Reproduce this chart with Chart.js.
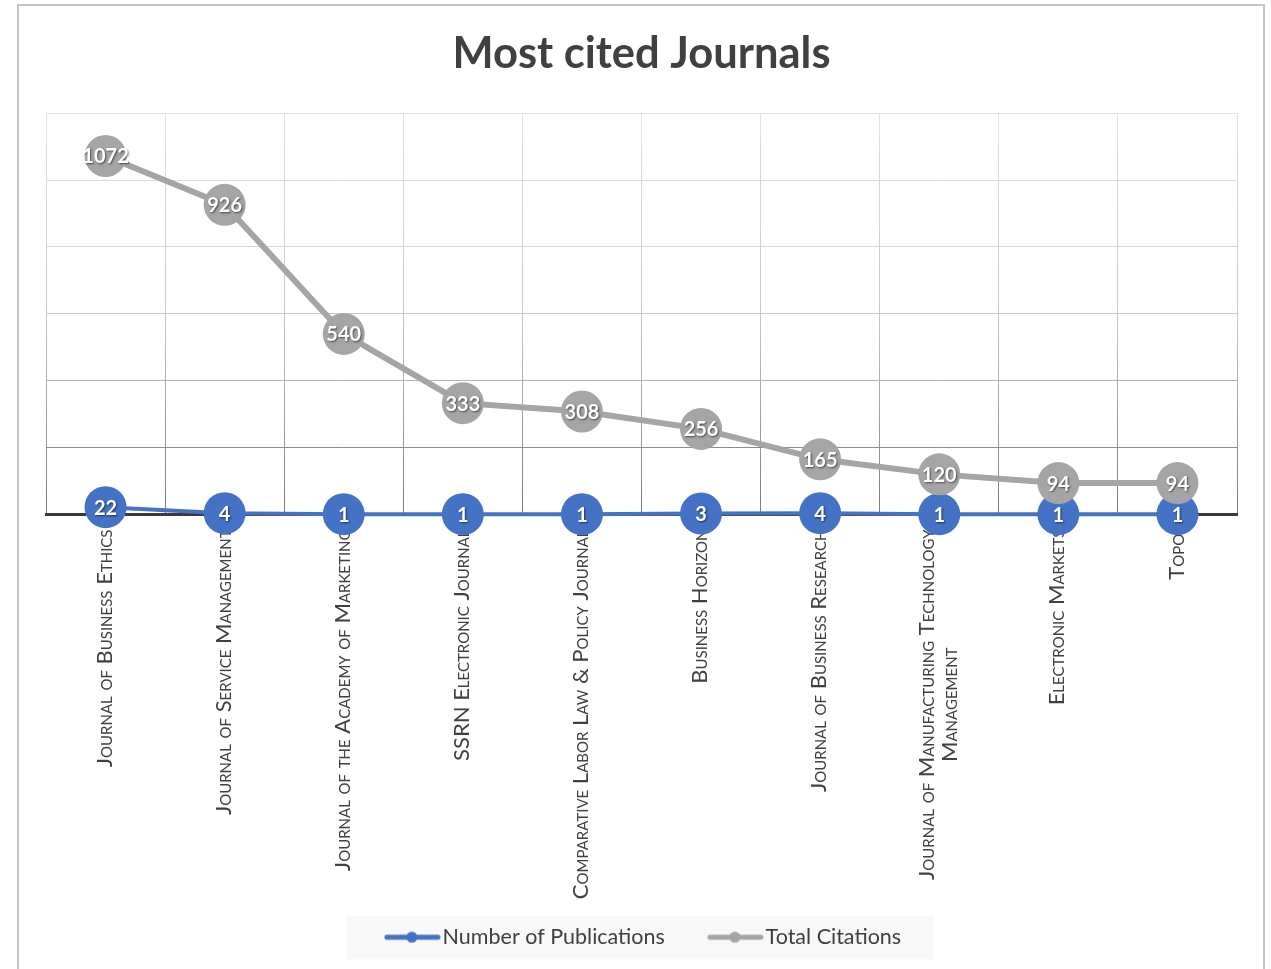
<!DOCTYPE html>
<html>
<head>
<meta charset="utf-8">
<script src="https://cdn.jsdelivr.net/npm/chart.js@4.4.1/dist/chart.umd.min.js"></script>
<style>
  html, body { margin: 0; padding: 0; background: #fff; }
  #wrap { position: relative; width: 1271px; height: 969px; }
</style>
</head>
<body>
<div id="wrap"><canvas id="chart" width="1271" height="969"></canvas></div>
<script>
const journals = [
  'Journal of Business Ethics',
  'Journal of Service Management',
  'Journal of the Academy of Marketing',
  'SSRN Electronic Journal',
  'Comparative Labor Law & Policy Journal',
  'Business Horizon',
  'Journal of Business Research',
  ['Journal of Manufacturing Technology', 'Management'],
  'Electronic Markets',
  'Topoi'
];
const publications = [22, 4, 1, 1, 1, 3, 4, 1, 1, 1];
const citations = [1072, 926, 540, 333, 308, 256, 165, 120, 94, 94];
const yMax = 1200;
const yStep = 200;

const BLUE = '#4472C4';
const GRAY = '#A5A5A5';
const TEXT = '#404040';

// grid gets darker towards the bottom like the original screenshot
const hLineColors = { 200: '#8c8c8c', 400: '#b4b4b4', 600: '#c9c9c9', 800: '#d6d6d6', 1000: '#dddddd', 1200: '#e2e2e2' };

// legend marker: line with a dot, drawn at the right end of a wider transparent image
function legendMarker(color) {
  const c = document.createElement('canvas');
  c.width = 98; c.height = 12;
  const g = c.getContext('2d');
  g.strokeStyle = color; g.lineWidth = 5; g.lineCap = 'round';
  g.beginPath(); g.moveTo(44, 6); g.lineTo(95, 6); g.stroke();
  g.fillStyle = color;
  g.beginPath(); g.arc(69, 6, 5.5, 0, Math.PI * 2); g.fill();
  return c;
}
const markers = [legendMarker(BLUE), legendMarker(GRAY)];

const frame = {
  id: 'frame',
  afterLayout(chart) {
    // the transparent lead-in of the markers pushes the row right; pull it back
    if (chart.legend) { chart.legend.left -= 15; chart.legend.right -= 15; }
  },
  beforeDraw(chart) {
    const ctx = chart.ctx;
    ctx.save();
    ctx.strokeStyle = '#c4c4c4';
    ctx.lineWidth = 2;
    ctx.strokeRect(18, 5, 1246, 975);
    const boxes = chart.legend && chart.legend.legendHitBoxes;
    if (boxes && boxes.length) {
      const first = boxes[0], last = boxes[boxes.length - 1];
      const l = first.left - 6, r = last.left + last.width + 33;
      ctx.fillStyle = '#f8f8f8';
      ctx.fillRect(l, first.top + first.height / 2 - 21, r - l, 43);
    }
    ctx.restore();
  }
};

// category labels: rotated, small caps, multi-line blocks centred line by line
const xLabels = {
  id: 'xLabels',
  beforeDatasetsDraw(chart) {
    const ctx = chart.ctx;
    const sx = chart.scales.x;
    const axisY = chart.chartArea.bottom;
    const pad = 15, lh = 23;
    ctx.save();
    ctx.font = 'small-caps 22px Lato';
    ctx.fillStyle = TEXT;
    ctx.textAlign = 'center';
    ctx.textBaseline = 'middle';
    chart.data.labels.forEach((lab, i) => {
      const lines = Array.isArray(lab) ? lab : [lab];
      const maxW = Math.max(...lines.map(s => ctx.measureText(s).width));
      const x = sx.getPixelForTick(i);
      ctx.save();
      ctx.translate(x, axisY);
      ctx.rotate(-Math.PI / 2);
      lines.forEach((s, k) => {
        ctx.fillText(s, -(pad + maxW / 2), (k - (lines.length - 1) / 2) * lh - 1);
      });
      ctx.restore();
    });
    ctx.restore();
  }
};

const valueLabels = {
  id: 'valueLabels',
  afterDatasetsDraw(chart) {
    const ctx = chart.ctx;
    ctx.save();
    ctx.font = 'bold 20px Lato';
    ctx.fillStyle = '#fff';
    ctx.textAlign = 'center';
    ctx.textBaseline = 'middle';
    ctx.shadowColor = 'rgba(0,0,0,0.55)';
    ctx.shadowBlur = 2;
    ctx.shadowOffsetX = 1;
    ctx.shadowOffsetY = 1;
    chart.data.datasets.forEach((ds, i) => {
      chart.getDatasetMeta(i).data.forEach((pt, j) => {
        ctx.fillText(String(ds.data[j]), pt.x, pt.y + 1);
      });
    });
    ctx.restore();
  }
};

new Chart(document.getElementById('chart'), {
  type: 'line',
  data: {
    labels: journals,
    datasets: [
      {
        label: 'Number of Publications',
        data: publications,
        borderColor: BLUE,
        backgroundColor: BLUE,
        borderWidth: 4,
        pointRadius: 21,
        pointHoverRadius: 21,
        pointBorderWidth: 0,
        order: 1,
        clip: false
      },
      {
        label: 'Total Citations',
        data: citations,
        borderColor: GRAY,
        backgroundColor: GRAY,
        borderWidth: 6,
        pointRadius: 21,
        pointHoverRadius: 21,
        pointBorderWidth: 0,
        order: 0,
        clip: false
      }
    ]
  },
  options: {
    responsive: false,
    animation: false,
    devicePixelRatio: 1,
    layout: { padding: { left: 46, right: 34, top: 28, bottom: 11 } },
    plugins: {
      title: {
        display: true,
        text: 'Most cited Journals',
        color: TEXT,
        font: { family: 'Lato', size: 43.5, weight: 'bold' },
        padding: { top: 0, bottom: 33 }
      },
      legend: {
        position: 'bottom',
        labels: {
          usePointStyle: true,
          pointStyleWidth: 80,
          padding: 10,
          color: TEXT,
          font: { family: 'Lato', size: 21.5 },
          sort: (a, b) => a.datasetIndex - b.datasetIndex,
          generateLabels(chart) {
            const items = Chart.defaults.plugins.legend.labels.generateLabels(chart);
            items.forEach(it => { it.pointStyle = markers[it.datasetIndex]; });
            return items;
          }
        }
      },
      tooltip: { enabled: false }
    },
    scales: {
      x: {
        offset: true,
        grid: {
          offset: true,
          drawTicks: false,
          color(c) {
            const a = c.chart.chartArea;
            if (!a) return '#d0d0d0';
            const g = c.chart.ctx.createLinearGradient(0, a.top, 0, a.bottom);
            g.addColorStop(0, '#e2e2e2');
            g.addColorStop(0.5, '#c8c8c8');
            g.addColorStop(1, '#7a7a7a');
            return g;
          }
        },
        border: { display: true, color: '#3a3a3a', width: 3 },
        ticks: { display: false },
        afterFit(scale) { scale.height = 402; }
      },
      y: {
        min: 0,
        max: yMax,
        ticks: { display: false, stepSize: yStep },
        grid: {
          drawTicks: false,
          color(c) { return hLineColors[c.tick.value] || '#3a3a3a'; }
        },
        border: { display: false }
      }
    }
  },
  plugins: [frame, xLabels, valueLabels]
});
</script>
</body>
</html>
